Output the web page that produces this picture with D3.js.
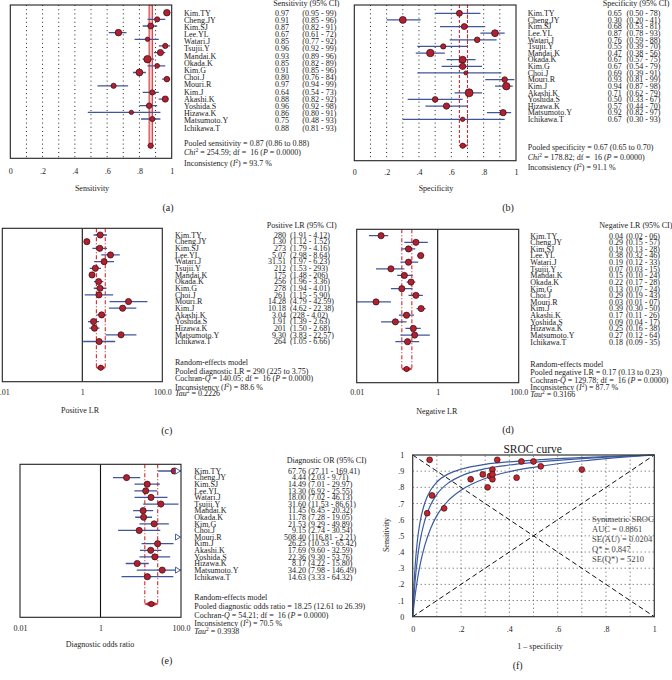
<!DOCTYPE html>
<html><head><meta charset="utf-8">
<script src="https://cdn.jsdelivr.net/npm/d3@7"></script>
<style>
body{margin:0;background:#fff}
svg{display:block;font-family:"Liberation Serif","Times New Roman",serif}
text{white-space:pre}
</style>
</head><body><svg id="c" width="672" height="680"></svg>
<script>
// ---------------- DATA ----------------
const studies = ["Kim.TY","Cheng.JY","Kim.SJ","Lee.YL","Watari.J","Tsujii.Y","Mandai.K","Okada.K","Kim.G","Choi.J","Mouri.R","Kim.J","Akashi.K","Yoshida.S","Hizawa.K","Matsumoto.Y","Ichikawa.T"];

const sens   = [0.97,0.91,0.87,0.67,0.85,0.96,0.93,0.85,0.91,0.80,0.97,0.64,0.88,0.96,0.86,0.75,0.88];
const sensLo = [0.95,0.85,0.82,0.61,0.77,0.92,0.89,0.82,0.85,0.76,0.94,0.54,0.82,0.92,0.80,0.48,0.81];
const sensHi = [0.99,0.96,0.91,0.72,0.92,0.99,0.96,0.89,0.96,0.84,0.99,0.73,0.92,0.98,0.91,0.93,0.93];
const sensWeight = [11,7,9,11,5,7,10,14,6,12,8,7,7,10,8,5,7];

const spec   = [0.65,0.30,0.68,0.87,0.76,0.55,0.47,0.67,0.67,0.69,0.93,0.94,0.71,0.50,0.57,0.92,0.67];
const specLo = [0.50,0.20,0.53,0.78,0.59,0.39,0.38,0.57,0.54,0.39,0.81,0.87,0.62,0.33,0.44,0.82,0.30];
const specHi = [0.78,0.41,0.81,0.93,0.88,0.70,0.56,0.75,0.79,0.91,0.99,0.98,0.79,0.67,0.70,0.97,0.93];
const specWeight = [9,12,9,12,8,7,14,12,10,4,8,14,16,8,10,10,5];

const plr   = [2.80,1.30,2.73,5.07,3.51,2.12,1.75,2.56,2.78,2.61,14.28,10.18,3.04,1.91,2.01,9.30,2.64];
const plrLo = [1.91,1.12,1.79,2.98,1.97,1.53,1.48,1.96,1.94,1.15,4.79,4.62,2.28,1.39,1.50,3.83,1.05];
const plrHi = [4.12,1.52,4.16,8.64,6.23,2.93,2.06,3.36,4.01,5.90,42.59,22.38,4.02,2.63,2.68,22.57,6.66];
const plrText   = ["280","1.30","273","5.07","31.51","212","175","256","278","261","14.28","10.18","3.04","1.91","201","9.30","264"];
const plrCIText = ["(1.91 - 4.12)","(1.12 - 1.52)","(1.79 - 4.16)","(2.98 - 8.64)","(1.97 - 6.23)","(1.53 - 293)","(1.48 - 206)","(1.96 - 3.36)","(1.94 - 4.01)","(1.15 - 5.90)","(4.79 - 42.59)","(4.62 - 22.38)","(228 - 4.02)","(1.39 - 2.63)","(1.50 - 2.68)","(3.83 - 22.57)","(1.05 - 6.66)"];

const nlr   = [0.04,0.29,0.19,0.38,0.19,0.07,0.15,0.22,0.13,0.29,0.03,0.39,0.17,0.09,0.25,0.27,0.18];
const nlrLo = [0.02,0.15,0.13,0.32,0.12,0.03,0.10,0.17,0.07,0.19,0.01,0.30,0.11,0.04,0.16,0.12,0.09];
const nlrHi = [0.06,0.57,0.28,0.46,0.33,0.15,0.24,0.28,0.24,0.43,0.07,0.50,0.26,0.17,0.38,0.64,0.35];

const dor   = [67.76,4.44,14.49,13.30,18.00,31.60,11.45,11.78,21.53,9.15,508.40,26.25,17.69,22.36,8.17,34.20,14.63];
const dorLo = [27.11,2.03,7.01,6.92,7.02,11.53,6.45,7.28,9.29,2.74,116.81,10.53,9.60,9.30,4.22,7.98,3.33];
const dorHi = [169.41,9.71,29.97,25.55,46.13,86.61,20.32,19.05,49.89,30.54,2212,65.42,32.59,53.76,15.80,146.49,64.32];
const dorCIText = ["(27.11 - 169.41)","(2.03 - 9.71)","(7.01 - 29.97)","(6.92 - 25.55)","(7.02 - 46.13)","(11.53 - 86.61)","(6.45 - 20.32)","(7.28 - 19.05)","(9.29 - 49.89)","(2.74 - 30.54)","(116.81 - 2.21)","(10.53 - 65.42)","(9.60 - 32.59)","(9.30 - 53.76)","(4.22 - 15.80)","(7.98 - 146.49)","(3.33 - 64.32)"];

const pooledSens = {est:0.87, lo:0.86, hi:0.88};
const pooledSpec = {est:0.67, lo:0.65, hi:0.70};
const pooledPlr  = {est:2.90, lo:2.25, hi:3.75};
const pooledNlr  = {est:0.17, lo:0.13, hi:0.23};
const pooledDor  = {est:18.25, lo:12.61, hi:26.39};

const linTicks = [0,0.2,0.4,0.6,0.8,1];
const linTickLabels = ["0",".2",".4",".6",".8","1"];
const logTicks = [0.01,1,100];
const logTickLabels = ["0.01","1","100.0"];
const srocYTicks = [0,0.1,0.2,0.3,0.4,0.5,0.6,0.7,0.8,0.9,1];
const srocYTickLabels = ["0",".1",".2",".3",".4",".5",".6",".7",".8",".9","1"];

// SROC curves (FPR, sensitivity)
const srocFpr   = [0,0.005,0.01,0.02,0.03,0.05,0.075,0.1,0.15,0.2,0.3,0.4,0.5,0.6,0.7,0.8,0.9,1];
const srocUpper = [0,0.184,0.312,0.479,0.582,0.703,0.785,0.833,0.885,0.912,0.942,0.958,0.968,0.977,0.984,0.99,0.995,1];
const srocMid   = [0,0.123,0.220,0.364,0.464,0.596,0.694,0.757,0.830,0.870,0.915,0.938,0.954,0.967,0.978,0.987,0.994,1];
const srocLower = [0,0.070,0.132,0.234,0.317,0.441,0.549,0.625,0.722,0.782,0.855,0.897,0.924,0.946,0.963,0.978,0.99,1];

// ---------------- DRAW ----------------
const svg = d3.select("#c");
const RED = "#d3272c", DOT = "#ae2130", DOTSTROKE = "#3a0c10", CI = "#40569a", TXT = "#1a1a1a";

function rich(g, x, y, parts, size) {
  const t = g.append("text").attr("x", x).attr("y", y).attr("font-size", size || "8px").attr("fill", TXT);
  let sup = false;
  (typeof parts === "string" ? [parts] : parts).forEach(p => {
    const [s, f] = typeof p === "string" ? [p, ""] : p;
    const ts = t.append("tspan").text(s);
    if (f === "i") ts.attr("font-style", "italic");
    if (f === "s") { ts.attr("dy", -3).attr("font-size", "5.5px"); sup = true; }
    else if (sup) { ts.attr("dy", 3); sup = false; }
  });
  return t;
}
function fmtCI2(lo, hi) { return `(${lo.toFixed(2)} - ${String(Math.round(hi*100)).padStart(2,"0")})`; }

function forest(o) {
  const g = svg.append("g");
  const x = (o.log ? d3.scaleLog().domain([0.01,100]) : d3.scaleLinear().domain([0,1])).range([o.x0, o.x1]);
  const y = d3.scalePoint().domain(studies).range(o.rows);
  const yl = d3.scalePoint().domain(studies).range(o.labRows || o.rows);
  const cid = "clip" + o.id;
  svg.append("clipPath").attr("id", cid).append("rect")
    .attr("x", o.x0).attr("y", o.top).attr("width", o.x1 - o.x0).attr("height", o.bottom - o.top);
  const pg = g.append("g").attr("clip-path", `url(#${cid})`);
  if (!o.log) {
    pg.selectAll(".grid").data(d3.range(1,10).map(i => i/10)).join("line")
      .attr("x1", d => x(d)).attr("x2", d => x(d)).attr("y1", o.top).attr("y2", o.bottom)
      .attr("stroke", "#222").attr("stroke-width", 1).attr("stroke-dasharray", "1,3.2");
  } else {
    pg.append("line").attr("x1", x(1)).attr("x2", x(1)).attr("y1", o.top).attr("y2", o.bottom)
      .attr("stroke", "#111").attr("stroke-width", 1.1);
  }
  const P = o.pooled;
  if (o.band) {
    pg.append("rect").attr("x", x(P.lo)).attr("width", x(P.hi) - x(P.lo)).attr("y", o.top)
      .attr("height", o.poolY + 2 - o.top).attr("fill", "#f7cccc").attr("stroke", RED).attr("stroke-width", 1);
  } else {
    [P.lo, P.hi].forEach(v => pg.append("line").attr("x1", x(v)).attr("x2", x(v))
      .attr("y1", o.top).attr("y2", o.poolY).attr("stroke", RED).attr("stroke-width", 1.1)
      .attr("stroke-dasharray", o.dash));
  }
  pg.selectAll(".ci").data(studies).join("line")
    .attr("x1", (d,i) => x(o.lo[i])).attr("x2", (d,i) => x(Math.min(o.hi[i], o.log ? 1e4 : 1)))
    .attr("y1", d => y(d)).attr("y2", d => y(d)).attr("stroke", CI).attr("stroke-width", 1.3);
  const r = o.w ? d3.scaleSqrt().domain([0, d3.max(o.w)]).range([0, o.rMax]) : null;
  pg.selectAll(".dot").data(studies).join("circle")
    .attr("cx", (d,i) => x(o.est[i])).attr("cy", d => y(d))
    .attr("r", (d,i) => r ? r(o.w[i]) : o.rConst)
    .attr("fill", DOT).attr("stroke", DOTSTROKE).attr("stroke-width", 0.7);
  if (o.log) {
    studies.forEach((d,i) => {
      if (o.hi[i] > 100) {
        const yy = y(d), xe = o.x1 - 0.5;
        g.append("path").attr("d", `M${xe-5},${yy-3}L${xe},${yy}L${xe-5},${yy+3}Z`)
          .attr("fill", "#fff").attr("stroke", "#4a62a8").attr("stroke-width", 1);
      }
    });
  }
  // pooled diamond
  const xl = x(P.lo), xh = x(P.hi), xe = x(P.est), yp = o.poolY;
  pg.append("path").attr("d", `M${Math.min(xl, xe-3)},${yp}L${xe},${yp-2.5}L${Math.max(xh, xe+3)},${yp}L${xe},${yp+2.5}Z`)
    .attr("fill", DOT).attr("stroke", RED).attr("stroke-width", 0.8);
  pg.append("circle").attr("cx", xe).attr("cy", yp).attr("r", 2.6).attr("fill", DOT).attr("stroke", DOTSTROKE).attr("stroke-width", 0.6);
  // frame
  g.append("rect").attr("x", o.x0).attr("y", o.top).attr("width", o.x1 - o.x0).attr("height", o.bottom - o.top)
    .attr("fill", "none").attr("stroke", "#222").attr("stroke-width", 1.1);
  // axis
  const ticks = o.log ? logTicks : linTicks, labs = o.log ? logTickLabels : linTickLabels;
  const ax = g.append("g").attr("transform", `translate(0,${o.bottom})`)
    .call(d3.axisBottom(x).tickValues(ticks).tickFormat((d,i) => labs[i]).tickSize(0).tickPadding(o.tickY - o.bottom - 2.8));
  ax.select(".domain").remove();
  ax.attr("font-family", null).attr("font-size", "8px");
  ax.selectAll("text").attr("fill", TXT);
  g.append("text").attr("x", o.titleX).attr("y", o.titleY + 2.8).attr("text-anchor", "middle")
    .attr("font-size", "8px").attr("fill", TXT).text(o.title);
  g.append("text").attr("x", o.tagX).attr("y", o.tagY + 3.5).attr("text-anchor", "middle")
    .attr("font-size", "10px").attr("fill", TXT).text(o.tag);
  // table
  g.append("text").attr("x", o.headX).attr("y", o.headY + 2.8).attr("font-size", "8px").attr("fill", TXT).text(o.header);
  const tg = g.append("g").attr("font-size", "8px").attr("fill", TXT);
  tg.selectAll(".lab").data(studies).join("text").attr("x", o.labX).attr("y", d => yl(d) + 2.8).text(d => d);
  tg.selectAll(".val").data(studies).join("text").attr("x", o.valX).attr("y", d => yl(d) + 2.8)
    .attr("text-anchor", o.valAnchor).text((d,i) => o.valText[i]);
  tg.selectAll(".cit").data(studies).join("text").attr("x", o.ciX).attr("y", d => yl(d) + 2.8)
    .text((d,i) => o.ciText[i]);
  o.summary.forEach((line, k) => rich(g, o.labX, o.sumY[k] + 2.8, line));
}

const f2 = d3.format(".2f");

forest({id:"a", est:sens, lo:sensLo, hi:sensHi, w:sensWeight, rMax:3.7, log:false,
  x0:10.3, x1:171.7, top:5, bottom:158.3, rows:[12.7,119], labRows:[12.7,127.7],
  pooled:pooledSens, poolY:145.7, band:true, tickY:170.7,
  title:"Sensitivity", titleX:92, titleY:187.7, tag:"(a)", tagX:168, tagY:207.5,
  header:"Sensitivity (95% CI)", headX:273.3, headY:3,
  labX:184, valX:275, valAnchor:"start", ciX:302.3,
  valText: sens.map(f2), ciText: sens.map((d,i) => fmtCI2(sensLo[i], sensHi[i])),
  summary:[
    "Pooled sensitivity = 0.87 (0.86 to 0.88)",
    [["Chi","i"],["2","s"]," = 254.59; df =  16 (",["P","i"]," = 0.0000)"],
    ["Inconsistency (",["I","i"],["2","s"],") = 93.7 %"]],
  sumY:[142.7,151.9,163]});

forest({id:"b", est:spec, lo:specLo, hi:specHi, w:specWeight, rMax:4, log:false,
  x0:354.3, x1:516, top:5, bottom:160.7, rows:[13.3,119.3],
  pooled:pooledSpec, poolY:145.7, dash:"3,2", tickY:171.7,
  title:"Specificity", titleX:436, titleY:188, tag:"(b)", tagX:508, tagY:207.5,
  header:"Specificity (95% CI)", headX:602.7, headY:3,
  labX:527.7, valX:607.7, valAnchor:"start", ciX:626.5,
  valText: spec.map(f2), ciText: spec.map((d,i) => fmtCI2(specLo[i], specHi[i])),
  summary:[
    "Pooled specificity = 0.67 (0.65 to 0.70)",
    [["Chi","i"],["2","s"]," = 178.82; df =  16 (",["P","i"]," = 0.0000)"],
    ["Inconsistency (",["I","i"],["2","s"],") = 91.1 %"]],
  sumY:[147.3,156.7,166.7]});

forest({id:"c", est:plr, lo:plrLo, hi:plrHi, rConst:3.1, log:true,
  x0:2.3, x1:162.3, top:228.3, bottom:381.7, rows:[235,341.5],
  pooled:pooledPlr, poolY:367.7, dash:"4,2,1,2", tickY:392.3,
  title:"Positive LR", titleX:80, titleY:410, tag:"(c)", tagX:166.7, tagY:430,
  header:"Positive LR (95% CI)", headX:266.7, headY:225,
  labX:175, valX:286, valAnchor:"end", ciX:290,
  valText: plrText, ciText: plrCIText,
  summary:[
    "Random-effects model",
    "Pooled diagnostic LR = 290 (225 to 3.75)",
    ["Cochran-",["Q","i"]," = 140.05; df =  16 (",["P","i"]," = 0.0000)"],
    ["Inconsistency (",["I","i"],["2","s"],") = 88.6 %"],
    [["Tau","i"],["2","s"]," = 0.2226"]],
  sumY:[362.3,370.7,378.5,386.7,393.5]});

forest({id:"d", est:nlr, lo:nlrLo, hi:nlrHi, rConst:3.1, log:true,
  x0:356.7, x1:518.7, top:229.3, bottom:382.7, rows:[235.7,341.7],
  pooled:pooledNlr, poolY:369, dash:"4,2,1,2", tickY:392.3,
  title:"Negative LR", titleX:436.7, titleY:410.7, tag:"(d)", tagX:508, tagY:429.3,
  header:"Negative LR (95% CI)", headX:599.3, headY:225,
  labX:530.3, valX:609, valAnchor:"start", ciX:626,
  valText: nlr.map(f2), ciText: nlr.map((d,i) => fmtCI2(nlrLo[i], nlrHi[i])),
  summary:[
    "Random-effects model",
    "Pooled negative LR = 0.17 (0.13 to 0.23)",
    ["Cochran-",["Q","i"]," = 129.78; df =  16 (",["P","i"]," = 0.0000)"],
    ["Inconsistency (",["I","i"],["2","s"],") = 87.7 %"],
    [["Tau","i"],["2","s"]," = 0.3166"]],
  sumY:[364,372.3,380,387.3,394.5]});

forest({id:"e", est:dor, lo:dorLo, hi:dorHi, rConst:3.1, log:true,
  x0:20, x1:181, top:464.3, bottom:617.3, rows:[471,576.7],
  pooled:pooledDor, poolY:604, dash:"4,2,1,2", tickY:628.3,
  title:"Diagnostic odds ratio", titleX:100, titleY:644.3, tag:"(e)", tagX:166.7, tagY:660.7,
  header:"Diagnostic OR (95% CI)", headX:286.7, headY:460,
  labX:194.3, valX:306, valAnchor:"end", ciX:308.3,
  valText: dor.map(f2), ciText: dorCIText,
  summary:[
    "Random-effects model",
    "Pooled diagnostic odds ratio = 18.25 (12.61 to 26.39)",
    ["Cochran-",["Q","i"]," = 54.21; df =  16 (",["P","i"]," = 0.0000)"],
    ["Inconsistency (",["I","i"],["2","s"],") = 70.5 %"],
    [["Tau","i"],["2","s"]," = 0.3938"]],
  sumY:[597.5,606.3,614.8,623.3,631]});

// ---------------- SROC ----------------
(function(){
  const g = svg.append("g");
  const x = d3.scaleLinear().domain([0,1]).range([412.7, 654.3]);
  const y = d3.scaleLinear().domain([0,1]).range([616.7, 455]);
  const grid = d3.range(1,10).map(i => i/10);
  g.selectAll(".gx").data(grid).join("line").attr("x1", d => x(d)).attr("x2", d => x(d))
    .attr("y1", y(0)).attr("y2", y(1)).attr("stroke", "#555").attr("stroke-dasharray", "1,3");
  g.selectAll(".gy").data(grid).join("line").attr("y1", d => y(d)).attr("y2", d => y(d))
    .attr("x1", x(0)).attr("x2", x(1)).attr("stroke", "#555").attr("stroke-dasharray", "1,3");
  g.append("line").attr("x1", x(0)).attr("y1", y(0)).attr("x2", x(1)).attr("y2", y(1))
    .attr("stroke", "#111").attr("stroke-dasharray", "5,3");
  g.append("line").attr("x1", x(0)).attr("y1", y(1)).attr("x2", x(1)).attr("y2", y(0))
    .attr("stroke", "#111").attr("stroke-dasharray", "5,3");
  const line = d3.line().x((d,i) => x(srocFpr[i])).y(d => y(d)).curve(d3.curveMonotoneX);
  [srocUpper, srocMid, srocLower].forEach(s => g.append("path").attr("d", line(s))
    .attr("fill", "none").attr("stroke", "#3b5a9f").attr("stroke-width", 1.2));
  g.selectAll(".pt").data(studies).join("circle")
    .attr("cx", (d,i) => x(1 - spec[i])).attr("cy", (d,i) => y(sens[i])).attr("r", 2.9)
    .attr("fill", "#c0262e").attr("stroke", DOTSTROKE).attr("stroke-width", 0.7);
  g.append("rect").attr("x", x(0)).attr("y", y(1)).attr("width", x(1) - x(0)).attr("height", y(0) - y(1))
    .attr("fill", "none").attr("stroke", "#333").attr("stroke-width", 1.2);
  const fmt = (d) => linTickLabels[linTicks.indexOf(d)];
  const ax = g.append("g").attr("transform", `translate(0,${y(0)})`)
    .call(d3.axisBottom(x).tickValues(linTicks).tickFormat(fmt).tickSize(0).tickPadding(629.3 - 616.7 - 2.8));
  ax.select(".domain").remove(); ax.attr("font-family", null).attr("font-size", "8px");
  ax.selectAll("text").attr("fill", TXT);
  const ay = g.append("g").attr("transform", `translate(${x(0)},0)`)
    .call(d3.axisLeft(y).tickValues(srocYTicks).tickFormat((d,i) => srocYTickLabels[i]).tickSize(0).tickPadding(8.4));
  ay.select(".domain").remove(); ay.attr("font-family", null).attr("font-size", "8px");
  ay.selectAll("text").attr("fill", TXT);
  g.append("text").attr("x", 532.7).attr("y", 452.8).attr("text-anchor", "middle").attr("font-size", "11.5px").attr("fill", TXT).text("SROC curve");
  g.append("text").attr("x", 540).attr("y", 648.8).attr("text-anchor", "middle").attr("font-size", "8px").attr("fill", TXT).text("1 – specificity");
  g.append("text").attr("transform", "translate(388.8,535) rotate(-90)").attr("text-anchor", "middle").attr("font-size", "8px").attr("fill", TXT).text("Sensitivity");
  g.append("text").attr("x", 517.7).attr("y", 668.5).attr("text-anchor", "middle").attr("font-size", "10px").attr("fill", TXT).text("(f)");
  const stats = [["Symmetric SROC"],["AUC = 0.8861"],["SE(AU) = 0.0204"],["Q* = 0.847"],["SE(Q*) = 5210"]];
  const sy = [519.3,529,539,549,559];
  stats.forEach((s,k) => rich(g, 592, sy[k] + 3, s, "8.5px").attr("fill", "#444"));
})();
</script>
</body></html>
